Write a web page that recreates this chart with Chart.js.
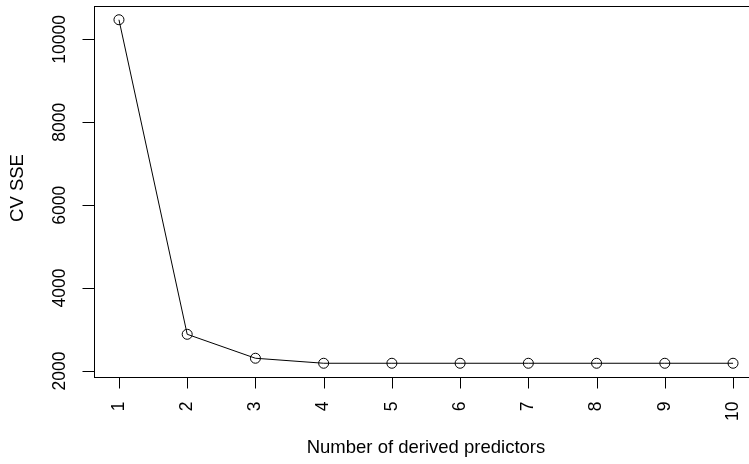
<!DOCTYPE html>
<html>
<head>
<meta charset="utf-8">
<script src="https://cdn.jsdelivr.net/npm/chart.js@4"></script>
<style>
  html, body { margin: 0; padding: 0; overflow: hidden; background: #fff; }
  #wrap { position: absolute; left: 0; top: 0; width: 770px; height: 464px; }
</style>
</head>
<body>
<div id="wrap"><canvas id="cv" width="770" height="464"></canvas></div>
<script>
// number of derived predictors and cross-validated SSE
const predictors = [1, 2, 3, 4, 5, 6, 7, 8, 9, 10];
const cvSSE = [10475, 2884, 2306, 2185, 2185, 2185, 2185, 2185, 2185, 2185];
const yTicks = [2000, 4000, 6000, 8000, 10000];
const xTicks = [1, 2, 3, 4, 5, 6, 7, 8, 9, 10];

// R-style 4% padding on both axes
const yLo = Math.min(...cvSSE), yHi = Math.max(...cvSSE);
const yPad = (yHi - yLo) * 0.04;
const xPad = (predictors[predictors.length - 1] - predictors[0]) * 0.04;

const TICK_FONT = '17.5px "Liberation Sans", Arial, sans-serif';
const TITLE_FONT = '18.5px "Liberation Sans", Arial, sans-serif';

const rAxes = {
  id: 'rAxes',
  afterDraw(chart) {
    const ctx = chart.ctx;
    const a = chart.chartArea;
    const xs = chart.scales.x, ys = chart.scales.y;
    ctx.save();
    ctx.strokeStyle = '#000';
    ctx.lineWidth = 1;
    ctx.strokeRect(Math.round(a.left) + 0.5, Math.round(a.top) + 0.5,
      Math.round(a.right - a.left), Math.round(a.bottom - a.top));

    ctx.fillStyle = '#000';
    ctx.font = TICK_FONT;

    // x ticks
    ctx.beginPath();
    const bx = Math.round(a.bottom) + 0.5;
    xTicks.forEach(v => {
      const px = Math.round(xs.getPixelForValue(v)) + 0.5;
      ctx.moveTo(px, bx); ctx.lineTo(px, bx + 11);
    });
    ctx.stroke();
    xTicks.forEach(v => {
      const px = xs.getPixelForValue(v);
      ctx.save();
      ctx.translate(px, bx + 24);
      ctx.rotate(-Math.PI / 2);
      ctx.textAlign = 'right';
      ctx.textBaseline = 'middle';
      ctx.fillText(String(v), 0, 0);
      ctx.restore();
    });

    // y ticks
    ctx.beginPath();
    const lx = Math.round(a.left) + 0.5;
    yTicks.forEach(v => {
      const py = Math.round(ys.getPixelForValue(v)) + 0.5;
      ctx.moveTo(lx, py); ctx.lineTo(lx - 12, py);
    });
    ctx.stroke();
    yTicks.forEach(v => {
      const py = ys.getPixelForValue(v);
      ctx.save();
      ctx.translate(60, py);
      ctx.rotate(-Math.PI / 2);
      ctx.textAlign = 'center';
      ctx.textBaseline = 'middle';
      ctx.fillText(String(v), 0, 0);
      ctx.restore();
    });

    // axis titles
    ctx.font = TITLE_FONT;
    ctx.textAlign = 'center';
    ctx.textBaseline = 'middle';
    ctx.fillText('Number of derived predictors', 426, 448);
    ctx.save();
    ctx.translate(18, 188);
    ctx.rotate(-Math.PI / 2);
    ctx.fillText('CV SSE', 0, 0);
    ctx.restore();
    ctx.restore();
  }
};

new Chart(document.getElementById('cv'), {
  type: 'line',
  data: {
    datasets: [{
      data: predictors.map((p, i) => ({ x: p, y: cvSSE[i] })),
      borderColor: '#000',
      borderWidth: 1,
      backgroundColor: 'rgba(0,0,0,0)',
      pointRadius: 5,
      pointBorderWidth: 1,
      pointBorderColor: '#000',
      pointBackgroundColor: 'rgba(0,0,0,0)',
      tension: 0,
      fill: false
    }]
  },
  options: {
    responsive: false,
    animation: false,
    layout: { padding: { top: 5.7, right: 12.4, left: 0, bottom: 0 } },
    plugins: { legend: { display: false }, tooltip: { enabled: false } },
    scales: {
      x: {
        type: 'linear',
        min: predictors[0] - xPad,
        max: predictors[predictors.length - 1] + xPad,
        grid: { display: false, drawTicks: false },
        border: { display: false },
        ticks: { display: false },
        afterFit(s) { s.height = 87; }
      },
      y: {
        min: yLo - yPad,
        max: yHi + yPad,
        grid: { display: false, drawTicks: false },
        border: { display: false },
        ticks: { display: false },
        afterBuildTicks(s) { s.ticks = yTicks.map(v => ({ value: v })); },
        afterFit(s) { s.width = 94.4; }
      }
    }
  },
  plugins: [rAxes]
});
</script>
</body>
</html>
